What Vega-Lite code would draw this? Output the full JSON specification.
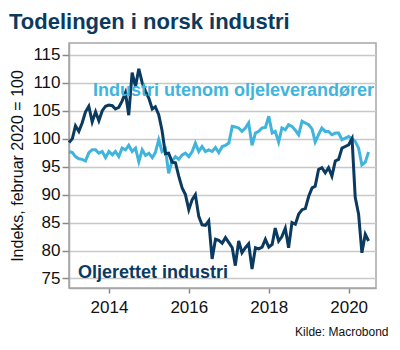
{
  "$schema": "https://vega.github.io/schema/vega-lite/v6.json",
  "width": 307,
  "height": 245,
  "autosize": {"type": "none"},
  "padding": {"left": 69, "top": 43, "right": 24, "bottom": 62},
  "background": "white",
  "title": {"text": "Todelingen i norsk industri", "anchor": "start", "frame": "group", "dx": -60, "dy": 23, "offset": 15, "baseline": "alphabetic", "fontSize": 22, "font": "Liberation Sans", "fontWeight": "bold", "color": "#0b3a5e"},
  "datasets": {
    "series": [
      {"date": "2013-01-01", "olje": 99.3, "ovrig": 97.7},
      {"date": "2013-02-01", "olje": 100.0, "ovrig": 97.5},
      {"date": "2013-03-01", "olje": 102.3, "ovrig": 96.8},
      {"date": "2013-04-01", "olje": 101.3, "ovrig": 96.4},
      {"date": "2013-05-01", "olje": 102.8, "ovrig": 96.3},
      {"date": "2013-06-01", "olje": 104.8, "ovrig": 96.0},
      {"date": "2013-07-01", "olje": 105.8, "ovrig": 97.5},
      {"date": "2013-08-01", "olje": 103.0, "ovrig": 98.0},
      {"date": "2013-09-01", "olje": 104.8, "ovrig": 98.0},
      {"date": "2013-10-01", "olje": 103.2, "ovrig": 97.4},
      {"date": "2013-11-01", "olje": 105.0, "ovrig": 97.7},
      {"date": "2013-12-01", "olje": 105.8, "ovrig": 96.6},
      {"date": "2014-01-01", "olje": 106.0, "ovrig": 97.7},
      {"date": "2014-02-01", "olje": 105.9, "ovrig": 97.1},
      {"date": "2014-03-01", "olje": 105.3, "ovrig": 97.7},
      {"date": "2014-04-01", "olje": 105.6, "ovrig": 96.8},
      {"date": "2014-05-01", "olje": 106.7, "ovrig": 98.3},
      {"date": "2014-06-01", "olje": 108.2, "ovrig": 98.0},
      {"date": "2014-07-01", "olje": 104.2, "ovrig": 98.8},
      {"date": "2014-08-01", "olje": 111.8, "ovrig": 97.7},
      {"date": "2014-09-01", "olje": 109.3, "ovrig": 98.3},
      {"date": "2014-10-01", "olje": 112.5, "ovrig": 95.9},
      {"date": "2014-11-01", "olje": 110.0, "ovrig": 98.0},
      {"date": "2014-12-01", "olje": 108.5, "ovrig": 97.0},
      {"date": "2015-01-01", "olje": 107.2, "ovrig": 97.4},
      {"date": "2015-02-01", "olje": 105.3, "ovrig": 96.6},
      {"date": "2015-03-01", "olje": 105.7, "ovrig": 97.5},
      {"date": "2015-04-01", "olje": 104.3, "ovrig": 99.8},
      {"date": "2015-05-01", "olje": 101.5, "ovrig": 97.7},
      {"date": "2015-06-01", "olje": 97.3, "ovrig": 98.2},
      {"date": "2015-07-01", "olje": 97.4, "ovrig": 93.8},
      {"date": "2015-08-01", "olje": 95.8, "ovrig": 96.0},
      {"date": "2015-09-01", "olje": 95.7, "ovrig": 96.8},
      {"date": "2015-10-01", "olje": 93.3, "ovrig": 96.3},
      {"date": "2015-11-01", "olje": 91.2, "ovrig": 97.1},
      {"date": "2015-12-01", "olje": 90.0, "ovrig": 97.4},
      {"date": "2016-01-01", "olje": 87.3, "ovrig": 96.8},
      {"date": "2016-02-01", "olje": 89.1, "ovrig": 97.7},
      {"date": "2016-03-01", "olje": 90.0, "ovrig": 99.2},
      {"date": "2016-04-01", "olje": 86.1, "ovrig": 97.7},
      {"date": "2016-05-01", "olje": 84.6, "ovrig": 98.6},
      {"date": "2016-06-01", "olje": 84.5, "ovrig": 97.7},
      {"date": "2016-07-01", "olje": 85.3, "ovrig": 98.0},
      {"date": "2016-08-01", "olje": 78.5, "ovrig": 97.7},
      {"date": "2016-09-01", "olje": 82.0, "ovrig": 98.4},
      {"date": "2016-10-01", "olje": 81.8, "ovrig": 97.5},
      {"date": "2016-11-01", "olje": 81.3, "ovrig": 98.6},
      {"date": "2016-12-01", "olje": 82.3, "ovrig": 98.8},
      {"date": "2017-01-01", "olje": 81.4, "ovrig": 99.2},
      {"date": "2017-02-01", "olje": 80.5, "ovrig": 102.2},
      {"date": "2017-03-01", "olje": 77.3, "ovrig": 102.1},
      {"date": "2017-04-01", "olje": 81.7, "ovrig": 101.9},
      {"date": "2017-05-01", "olje": 79.6, "ovrig": 101.3},
      {"date": "2017-06-01", "olje": 80.5, "ovrig": 101.9},
      {"date": "2017-07-01", "olje": 81.2, "ovrig": 102.8},
      {"date": "2017-08-01", "olje": 76.7, "ovrig": 98.8},
      {"date": "2017-09-01", "olje": 80.5, "ovrig": 101.0},
      {"date": "2017-10-01", "olje": 80.3, "ovrig": 101.3},
      {"date": "2017-11-01", "olje": 80.6, "ovrig": 101.9},
      {"date": "2017-12-01", "olje": 82.0, "ovrig": 102.0},
      {"date": "2018-01-01", "olje": 80.6, "ovrig": 104.0},
      {"date": "2018-02-01", "olje": 81.1, "ovrig": 101.0},
      {"date": "2018-03-01", "olje": 84.0, "ovrig": 101.3},
      {"date": "2018-04-01", "olje": 81.7, "ovrig": 99.4},
      {"date": "2018-05-01", "olje": 82.5, "ovrig": 101.9},
      {"date": "2018-06-01", "olje": 84.0, "ovrig": 101.6},
      {"date": "2018-07-01", "olje": 80.5, "ovrig": 102.5},
      {"date": "2018-08-01", "olje": 85.0, "ovrig": 102.2},
      {"date": "2018-09-01", "olje": 84.7, "ovrig": 101.5},
      {"date": "2018-10-01", "olje": 86.5, "ovrig": 100.7},
      {"date": "2018-11-01", "olje": 87.3, "ovrig": 103.1},
      {"date": "2018-12-01", "olje": 87.5, "ovrig": 102.8},
      {"date": "2019-01-01", "olje": 89.7, "ovrig": 102.5},
      {"date": "2019-02-01", "olje": 91.2, "ovrig": 101.7},
      {"date": "2019-03-01", "olje": 91.5, "ovrig": 99.4},
      {"date": "2019-04-01", "olje": 94.5, "ovrig": 100.7},
      {"date": "2019-05-01", "olje": 94.8, "ovrig": 101.9},
      {"date": "2019-06-01", "olje": 93.9, "ovrig": 101.3},
      {"date": "2019-07-01", "olje": 94.8, "ovrig": 101.3},
      {"date": "2019-08-01", "olje": 93.3, "ovrig": 100.7},
      {"date": "2019-09-01", "olje": 96.0, "ovrig": 101.0},
      {"date": "2019-10-01", "olje": 96.3, "ovrig": 101.0},
      {"date": "2019-11-01", "olje": 98.3, "ovrig": 99.8},
      {"date": "2019-12-01", "olje": 98.6, "ovrig": 100.1},
      {"date": "2020-01-01", "olje": 98.9, "ovrig": 100.4},
      {"date": "2020-02-01", "olje": 100.0, "ovrig": 100.0},
      {"date": "2020-03-01", "olje": 89.5, "ovrig": 99.5},
      {"date": "2020-04-01", "olje": 86.5, "ovrig": 98.3},
      {"date": "2020-05-01", "olje": 79.6, "ovrig": 95.3},
      {"date": "2020-06-01", "olje": 82.9, "ovrig": 95.8},
      {"date": "2020-07-01", "olje": 81.7, "ovrig": 97.6}
    ],
    "labels": [
      {"date": "2013-08-08", "value": 107.55, "label": "Industri utenom oljeleverandører", "series": "ovrig"},
      {"date": "2013-03-24", "value": 75.0, "label": "Oljerettet industri", "series": "olje"}
    ]
  },
  "encoding": {
    "x": {
      "field": "date",
      "type": "temporal",
      "scale": {"type": "utc", "domain": [{"year": 2013, "month": 1, "date": 1, "utc": true}, {"year": 2020, "month": 9, "date": 7, "utc": true}]},
      "axis": {
        "title": "Kilde: Macrobond",
        "titleFontSize": 12,
        "titleFontWeight": "normal",
        "titleColor": "#111111",
        "titleAlign": "right",
        "titleAnchor": "end",
        "titleX": 319,
        "titleY": 47,
        "titleBaseline": "alphabetic",
        "values": [
          {"year": 2014, "month": 1, "date": 1, "utc": true},
          {"year": 2016, "month": 1, "date": 1, "utc": true},
          {"year": 2018, "month": 1, "date": 1, "utc": true},
          {"year": 2020, "month": 1, "date": 1, "utc": true}
        ],
        "format": "%Y",
        "formatType": "utc",
        "grid": false,
        "labelOverlap": false,
        "tickSize": 5,
        "tickWidth": 1.5,
        "tickColor": "#888888",
        "domainColor": "#a6a6a6",
        "domainWidth": 1.5,
        "labelFontSize": 17,
        "labelColor": "#111111",
        "labelPadding": 6
      }
    },
    "y": {
      "field": "ovrig",
      "type": "quantitative",
      "scale": {"domain": [73.3, 117.1], "nice": false, "zero": false},
      "axis": {
        "title": "Indeks, februar 2020 = 100",
        "values": [75, 80, 85, 90, 95, 100, 105, 110, 115],
        "labelOverlap": false,
        "labelSeparation": 0,
        "grid": true,
        "gridColor": "#c8c8c8",
        "gridWidth": 1.5,
        "tickSize": 7,
        "tickWidth": 1.5,
        "tickColor": "#888888",
        "domainColor": "#a6a6a6",
        "domainWidth": 1.5,
        "labelFontSize": 17,
        "labelColor": "#111111",
        "labelPadding": 2,
        "titleFontSize": 16,
        "titleFontWeight": "normal",
        "titleColor": "#111111",
        "titlePadding": 6
      }
    }
  },
  "layer": [
    {
      "data": {"name": "series"},
      "mark": {"type": "line", "color": "#40b4dc", "strokeWidth": 3}
    },
    {
      "data": {"name": "series"},
      "mark": {"type": "line", "color": "#0a3a5f", "strokeWidth": 3},
      "encoding": {
        "y": {"field": "olje", "type": "quantitative"}
      }
    },
    {
      "data": {"name": "labels"},
      "mark": {"type": "text", "align": "left", "baseline": "alphabetic", "fontSize": 18, "fontWeight": "bold", "font": "Liberation Sans"},
      "encoding": {
        "y": {"field": "value", "type": "quantitative"},
        "text": {"field": "label"},
        "color": {"field": "series", "type": "nominal", "scale": {"domain": ["ovrig", "olje"], "range": ["#40b4dc", "#0a3a5f"]}, "legend": null}
      }
    }
  ],
  "config": {
    "font": "Liberation Sans",
    "axis": {"labelOverlap": false},
    "axisY": {"labelOverlap": false},
    "view": {"stroke": "#a6a6a6", "strokeWidth": 1.5}
  }
}
